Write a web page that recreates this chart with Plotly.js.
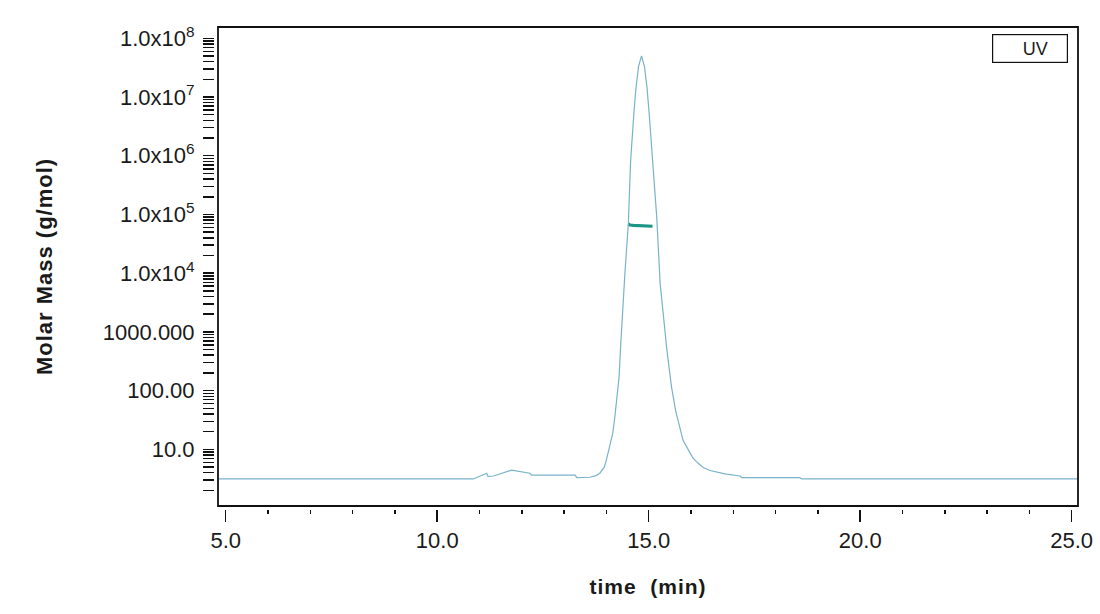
<!DOCTYPE html>
<html>
<head>
<meta charset="utf-8">
<script src="https://cdn.plot.ly/plotly-3.0.1.min.js"></script>
<style>
  html, body { margin: 0; padding: 0; background: #ffffff; }
  #chart { width: 1100px; height: 614px; }
  .xtitle, .ytitle { letter-spacing: 1px; }
</style>
</head>
<body>
<div id="chart"></div>
<script>
// UV trace (relative detector response, baseline 0, peak 1)
const uvTime = [4.82, 10.85, 11.17, 11.2, 11.33, 11.76, 12.19, 12.23, 13.26, 13.3, 13.61, 13.75, 13.84, 13.95,
    14.0, 14.08, 14.15, 14.2, 14.24, 14.3, 14.34, 14.38, 14.44, 14.52, 14.57, 14.65, 14.7, 14.76,
    14.83, 14.9, 14.96, 15.01, 15.09, 15.19, 15.27, 15.33, 15.43, 15.54, 15.64, 15.74, 15.81,
    15.98, 16.05, 16.17, 16.29, 16.45, 16.64, 16.8, 17.16, 17.2, 18.57, 18.62, 25.15];
const uvSignal = [0, 0, 0.0135, 0.006, 0.007, 0.021, 0.0135, 0.009, 0.009, 0.003, 0.004, 0.008, 0.013, 0.028,
    0.045, 0.076, 0.108, 0.147, 0.187, 0.242, 0.32, 0.4, 0.49, 0.605, 0.747, 0.865, 0.925, 0.975,
    1.0, 0.975, 0.925, 0.865, 0.747, 0.619, 0.463, 0.4, 0.305, 0.217, 0.16, 0.12, 0.092,
    0.061, 0.049, 0.037, 0.027, 0.02, 0.015, 0.012, 0.007, 0.003, 0.003, 0, 0];

// molar mass across the peak (g/mol)
const mmTime = [14.52, 14.56, 14.64, 14.8, 14.95, 15.09];
const molarMass = [69000, 66000, 65000, 64000, 63500, 63000];

// y axis tick labels, one per decade 10^1 .. 10^8
const yTickVals = [1e1, 1e2, 1e3, 1e4, 1e5, 1e6, 1e7, 1e8];
const yTickLabels = ['10.0', '100.00', '1000.000', '1.0x10<sup>4</sup>', '1.0x10<sup>5</sup>',
    '1.0x10<sup>6</sup>', '1.0x10<sup>7</sup>', '1.0x10<sup>8</sup>'];

const xTickVals = [5, 10, 15, 20, 25];
const xTickLabels = ['5.0', '10.0', '15.0', '20.0', '25.0'];

// unlabelled log ticks at 2..9 x 10^n
const yMinorVals = [];
for (let n = 0; n < 8; n++) {
    for (let m = 2; m <= 9; m++) yMinorVals.push(m * Math.pow(10, n));
}

const font = 'Liberation Sans, Arial, sans-serif';

const data = [
    {
        type: 'scatter',
        mode: 'lines',
        name: 'UV',
        x: uvTime,
        y: uvSignal,
        yaxis: 'y2',
        line: { color: '#78b3c9', width: 1.2 },
        showlegend: false,
        hoverinfo: 'skip'
    },
    {
        type: 'scatter',
        mode: 'lines',
        name: 'Molar Mass',
        x: mmTime,
        y: molarMass,
        line: { color: '#1a9586', width: 3.2 },
        showlegend: false,
        hoverinfo: 'skip'
    }
];

const layout = {
    width: 1100,
    height: 614,
    margin: { l: 215, r: 19, t: 24, b: 105 },
    paper_bgcolor: '#ffffff',
    plot_bgcolor: '#ffffff',
    font: { family: font, size: 22, color: '#1a1a1a' },
    xaxis: {
        range: [4.747, 25.22],
        showgrid: false,
        zeroline: false,
        showline: false,
        tickmode: 'array',
        tickvals: xTickVals,
        ticktext: xTickLabels,
        ticks: 'outside',
        ticklen: 12,
        tickwidth: 1.5,
        tickcolor: '#111',
        minor: { dtick: 1, tick0: 5, ticks: 'outside', ticklen: 4, tickwidth: 1.5, tickcolor: '#111' },
        tickfont: { size: 22 },
        title: { text: '<b>time  (min)</b>', font: { size: 21 }, standoff: 26 }
    },
    yaxis: {
        type: 'log',
        range: [-0.017, 8.244],
        showgrid: false,
        zeroline: false,
        showline: false,
        tickmode: 'array',
        tickvals: yTickVals,
        ticktext: yTickLabels,
        ticks: 'outside',
        ticklen: 11,
        tickwidth: 1.5,
        tickcolor: '#111',
        minor: { tickmode: 'array', tickvals: yMinorVals, ticks: 'outside', ticklen: 11, tickwidth: 1.5, tickcolor: '#111' },
        tickfont: { size: 22 },
        ticklabelstandoff: 4,
        title: { text: '<b>Molar Mass (g/mol)</b>', font: { size: 22 }, standoff: 44 }
    },
    yaxis2: {
        overlaying: 'y',
        range: [-0.071, 1.0755],
        visible: false
    },
    shapes: [
        {
            type: 'rect', xref: 'paper', yref: 'paper',
            x0: 0.00346, x1: 0.99654, y0: 0.0062, y1: 0.9938,
            line: { color: '#111', width: 1.8 }
        }
    ],
    annotations: [
        {
            xref: 'paper', yref: 'paper',
            x: 0.9413, y: 0.9485, xanchor: 'center', yanchor: 'middle',
            text: '  UV', showarrow: false,
            font: { size: 18, color: '#1a1a1a' },
            width: 70, height: 23,
            align: 'center',
            bordercolor: '#111', borderwidth: 1.2, borderpad: 2
        }
    ]
};

Plotly.newPlot('chart', data, layout, { displayModeBar: false, staticPlot: true });
</script>
</body>
</html>
